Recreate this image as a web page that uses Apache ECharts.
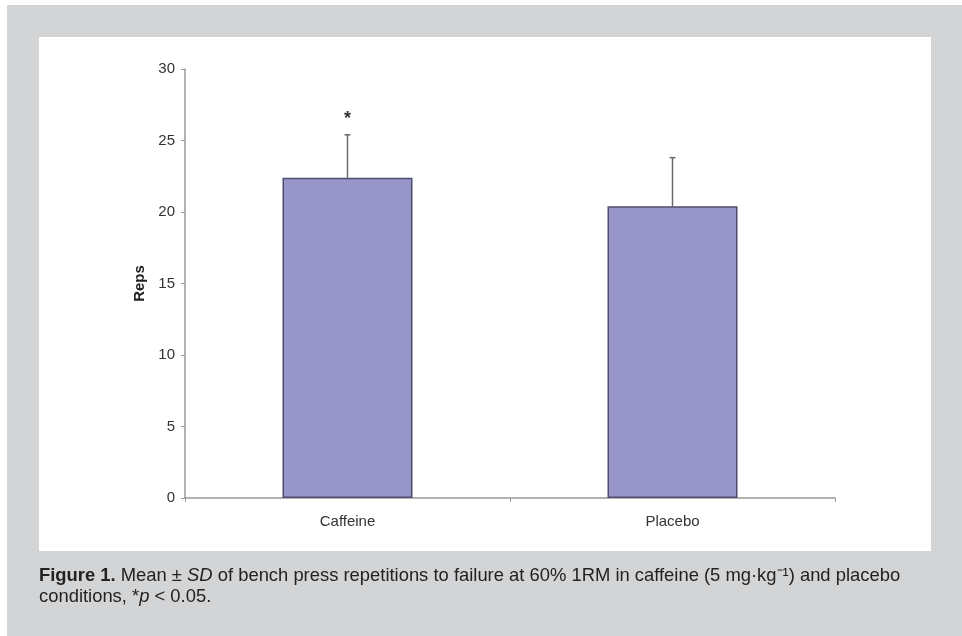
<!DOCTYPE html>
<html><head><meta charset="utf-8">
<script src="https://cdn.jsdelivr.net/npm/echarts@6/dist/echarts.min.js"></script>
<style>html,body{margin:0;padding:0;background:#fff}#c{width:962px;height:636px}</style>
</head><body><div id="c"></div>
<script>
const categories = ['Caffeine', 'Placebo'];
const means = [22.4, 20.4];
const sds = [3.0, 3.4];
const marks = ['*', ''];
const yTicks = [0, 5, 10, 15, 20, 25, 30];

const chart = echarts.init(document.getElementById('c'));
const font = '"Liberation Sans", Arial, sans-serif';

chart.setOption({
  animation: false,
  textStyle: { fontFamily: font },
  graphic: [
    { type: 'rect', z: -10, shape: { x: 7, y: 5, width: 955, height: 631 }, style: { fill: '#d3d4d6' }, silent: true },
    { type: 'rect', z: -9, shape: { x: 39, y: 37, width: 892, height: 514 }, style: { fill: '#ffffff' }, silent: true },
    {
      type: 'text', left: 39, top: 565, z: 10,
      style: {
        text: '{b|Figure 1.} Mean ± {i|SD} of bench press repetitions to failure at 60% 1RM in caffeine (5 mg·kg⁻¹) and placebo\nconditions, *{i|p} < 0.05.',
        font: '18.4px ' + font, fill: '#222', lineHeight: 21,
        rich: {
          b: { fontWeight: 'bold', fontSize: 18.4, fontFamily: font, fill: '#222', lineHeight: 21 },
          i: { fontStyle: 'italic', fontSize: 18.4, fontFamily: font, fill: '#222', lineHeight: 21 }
        }
      }
    }
  ],
  grid: { left: 185, right: 127, top: 69, bottom: 138 },
  xAxis: {
    type: 'category', data: categories,
    axisLine: { lineStyle: { color: '#9a9a9a', width: 1.5 } },
    axisTick: { show: true, length: 4, lineStyle: { color: '#9a9a9a' } },
    axisLabel: { color: '#333', fontSize: 15, margin: 16, fontFamily: font }
  },
  yAxis: {
    type: 'value', min: 0, max: 30, interval: 5,
    name: 'Reps', nameLocation: 'middle', nameGap: 31,
    nameTextStyle: { fontWeight: 'bold', fontSize: 15, color: '#222', fontFamily: font },
    axisLine: { show: true, lineStyle: { color: '#9a9a9a', width: 1.5 } },
    axisTick: { show: true, length: 4, lineStyle: { color: '#9a9a9a' } },
    axisLabel: { color: '#333', fontSize: 15, margin: 10, fontFamily: font,
      formatter: v => yTicks.includes(v) ? String(v) : '' },
    splitLine: { show: false }
  },
  series: [
    {
      type: 'bar', data: means, barWidth: '40%',
      itemStyle: { color: '#9896c9', borderColor: '#4e4d70', borderWidth: 1.5 }
    },
    {
      type: 'custom', z: 1,
      data: means.map((m, i) => [i, m, m + sds[i], marks[i]]),
      renderItem: (params, api) => {
        const x = api.coord([api.value(0), api.value(1)]);
        const top = api.coord([api.value(0), api.value(2)]);
        const cap = 3;
        const children = [
          { type: 'line', shape: { x1: x[0], y1: x[1], x2: top[0], y2: top[1] }, style: { stroke: '#6a6a6a', lineWidth: 1.5 } },
          { type: 'line', shape: { x1: top[0] - cap, y1: top[1], x2: top[0] + cap, y2: top[1] }, style: { stroke: '#6a6a6a', lineWidth: 1.5 } }
        ];
        const mk = marks[params.dataIndex];
        if (mk) {
          children.push({ type: 'text', style: { text: mk, x: top[0], y: top[1] - 16, align: 'center', verticalAlign: 'middle', font: 'bold 18px ' + font, fill: '#333' } });
        }
        return { type: 'group', children };
      }
    }
  ]
});
</script></body></html>
